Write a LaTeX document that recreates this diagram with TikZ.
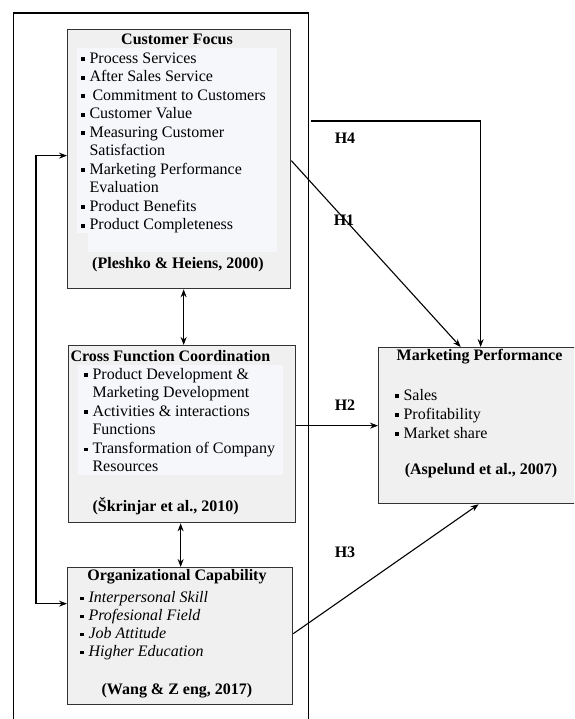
\documentclass[tikz,border=0pt]{standalone}
\usepackage{fontspec}
\setmainfont{Liberation Serif}
\usetikzlibrary{positioning,arrows.meta}

\definecolor{listbg}{RGB}{246,247,250}
\newcommand{\sqb}{\llap{\raisebox{0.28ex}{\rule{3.6pt}{3.6pt}}\hspace{5pt}}}

\tikzset{
  factor/.style={draw=black!80, line width=1.3pt, fill=black!6, inner sep=0pt, anchor=north west},
  listarea/.style={fill=listbg},
  head/.style={font=\fontsize{16}{18.5}\selectfont\bfseries, inner sep=0pt},
  items/.style={font=\fontsize{16}{18.5}\selectfont, align=left, inner sep=0pt, anchor=north west},
  hyp/.style={head},
}

\begin{document}
\begin{tikzpicture}[x=1pt, y=-1pt, >={Stealth[length=8pt,width=6pt]}, line width=1.1pt]
  \clip (0,0) rectangle (574,719);
  \node[draw, line width=1.3pt, minimum width=295pt, minimum height=740pt, anchor=north west, inner sep=0pt] (frame) at (12.5,12.5) {};

  % customer focus
  \node[factor, minimum width=223pt, minimum height=259pt] (cf) at (67,29) {};
  \fill[listarea] (77,48) -- (277,48) -- (277,252) -- (88,252) -- (88,233) -- (77,233) -- cycle;
  \node[head] (cf-title) at (177,39) {Customer Focus};
  \node[items] (cf-list) at (89,52) {\sqb Process Services\\ \sqb After Sales Service\\ \sqb\hspace{3pt}Commitment to Customers\\ \sqb Customer Value\\ \sqb Measuring Customer\\ Satisfaction\\ \sqb Marketing Performance\\ Evaluation\\ \sqb Product Benefits\\ \sqb Product Completeness};
  \node[head] (cf-ref) at (178,265) {(Pleshko \& Heiens, 2000)};

  % cross function coordination
  \node[factor, minimum width=227pt, minimum height=177pt] (cfc) at (68,345) {};
  \fill[listarea] (78,365) rectangle (283,475);
  \node[head, anchor=west] (cfc-title) at (70,356) {Cross Function Coordination};
  \node[items] (cfc-list) at (92,367.5) {\sqb Product Development \&\\ Marketing Development\\ \sqb Activities \& interactions\\ Functions\\ \sqb Transformation of Company\\ Resources};
  \node[head, anchor=west] (cfc-ref) at (92,506) {(Škrinjar et al., 2010)};

  % organizational capability
  \node[factor, minimum width=225pt, minimum height=137pt] (oc) at (67,567) {};
  \node[head] (oc-title) at (177,577) {Organizational Capability};
  \node[items, font=\fontsize{16}{18}\selectfont\itshape] (oc-list) at (88,590.5) {\sqb Interpersonal Skill\\ \sqb Profesional Field\\ \sqb Job Attitude\\ \sqb Higher Education};
  \node[head] (oc-ref) at (177,691) {(Wang \& Z eng, 2017)};

  % marketing performance
  \node[factor, minimum width=198pt, minimum height=156pt] (mp) at (378,347) {};
  \node[head] (mp-title) at (479.5,357) {Marketing Performance};
  \node[items, font=\fontsize{16}{19}\selectfont] (mp-list) at (403,388.5) {\sqb Sales\\ \sqb Profitability\\ \sqb Market share};
  \node[head] (mp-ref) at (481,471) {(Aspelund et al., 2007)};

  % links between factors
  \draw[<->] ([xshift=4.5pt]cf.south) -- ([xshift=4.5pt]cf.south |- cfc.north);
  \draw[<->] ([xshift=-1.5pt]cfc.south) -- ([xshift=-1.5pt]cfc.south |- oc.north);
  \coordinate (loop) at (36,0);
  \coordinate (cf-in) at ([yshift=3.5pt]cf.west);
  \coordinate (oc-in) at ([yshift=32.5pt]oc.west);
  \draw[<->] (cf-in) -- (cf-in -| loop) -- (oc-in -| loop) -- (oc-in);

  % hypotheses
  \coordinate (h4y) at (0,121);
  \draw[->] ([xshift=2pt]frame.east |- h4y) -| ([xshift=3pt]mp.north);
  \draw[->] ([yshift=-1.5pt]cf.east) -- ([xshift=-17pt]mp.north);
  \draw[->] (cfc.east |- mp.west) -- (mp.west);
  \draw[->] ([yshift=2.5pt]oc.east) -- ([xshift=1pt]mp.south);

  \node[hyp] (h4) at (345,138) {H4};
  \node[hyp] (h1) at (344,220) {H1};
  \node[hyp] (h2) at (345,405) {H2};
  \node[hyp] (h3) at (345,552) {H3};
\end{tikzpicture}
\end{document}
